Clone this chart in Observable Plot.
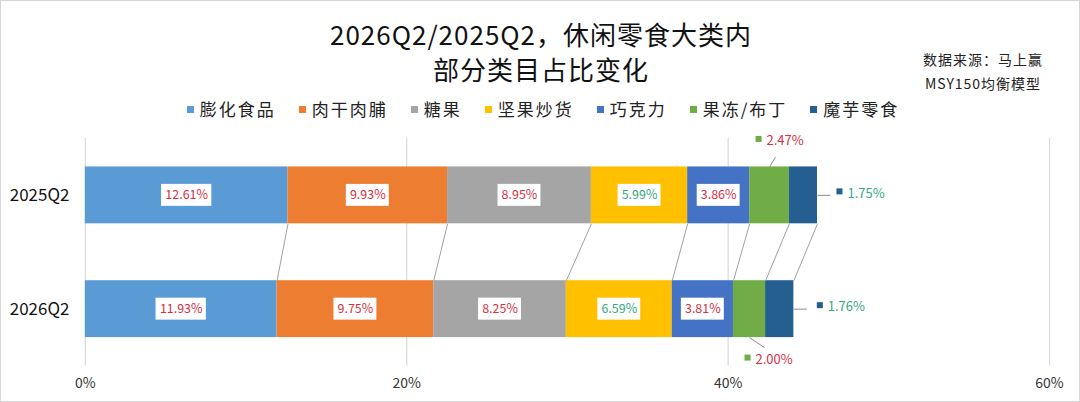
<!DOCTYPE html>
<html>
<head>
<meta charset="utf-8">
<script src="https://cdn.jsdelivr.net/npm/d3@7"></script>
<script src="https://cdn.jsdelivr.net/npm/@observablehq/plot@0.6"></script>
<style>
  html, body { margin: 0; padding: 0; background: #fff; }
  body { font-family: "Noto Sans CJK SC", "Noto Sans", sans-serif; color: #111; }
  #wrap { position: relative; width: 1080px; height: 402px; box-sizing: border-box; border: 1px solid #d6d6d6; background: #fff; overflow: hidden; }
  #title { position: absolute; left: 0; top: 15px; width: 1080px; text-align: center; font-size: 26px; line-height: 35px; letter-spacing: 1px; color: #111; }
  #source { position: absolute; left: 904px; top: 46px; width: 156px; text-align: center; font-size: 14px; line-height: 24px; letter-spacing: 1px; color: #222; }
  #legend { position: absolute; left: 0; top: 97px; width: 1080px; display: flex; justify-content: center; gap: 23px; font-size: 17px; line-height: 22px; letter-spacing: 2px; color: #222; padding-left: 4px; box-sizing: border-box; }
  .item { display: flex; align-items: center; }
  .sw { width: 7px; height: 7px; margin-right: 6px; }
  #chart { position: absolute; left: 0; top: 125px; }
</style>
</head>
<body>
<div id="wrap">
  <div id="title">2026Q2/2025Q2，休闲零食大类内<br>部分类目占比变化</div>
  <div id="source">数据来源：马上赢<br>MSY150均衡模型</div>
  <div id="legend"></div>
  <div id="chart"></div>
</div>
<script>
// ---- data ----
const periods = ["2025Q2", "2026Q2"];
const categories = ["膨化食品", "肉干肉脯", "糖果", "坚果炒货", "巧克力", "果冻/布丁", "魔芋零食"];
const values2025 = [12.61, 9.93, 8.95, 5.99, 3.86, 2.47, 1.75];
const values2026 = [11.93, 9.75, 8.25, 6.59, 3.81, 2.00, 1.76];
const colors = ["#5B9BD5", "#ED7D31", "#A5A5A5", "#FFC000", "#4472C4", "#70AD47", "#255E91"];
const xTicks = [0, 0.2, 0.4, 0.6];
const insideCount = 5; // first five categories labelled inside the bars

// ---- layout ----
const W = 1080, H = 277, ML = 84, MR = 30, MT = 12, MB = 37;
const kx = 0.6 / (W - ML - MR);   // data units per pixel (x)
const ky = 2 / (H - MT - MB);     // data units per pixel (y)
const RED = "#D6303F", GREEN = "#34A87F";

// legend
const legend = document.getElementById("legend");
categories.forEach((c, i) => {
  const it = document.createElement("div");
  it.className = "item";
  it.innerHTML = `<span class="sw" style="background:${colors[i]}"></span><span>${c}</span>`;
  legend.appendChild(it);
});

// rows
const series = [values2025, values2026];
const rows = [];
series.forEach((vals, yi) => {
  const cum = d3.cumsum(vals);
  vals.forEach((v, i) => {
    const other = series[1 - yi][i];
    const up = yi === 1 ? v > other : other > v;
    rows.push({
      period: periods[yi], yi, cat: categories[i], ci: i,
      value: v / 100,
      end: cum[i] / 100,
      mid: (cum[i] - v / 2) / 100,
      label: v.toFixed(2) + "%",
      color: up ? GREEN : RED
    });
  });
});
const cum25 = d3.cumsum(values2025), cum26 = d3.cumsum(values2026);
const links = categories.map((c, i) => ({a: cum25[i] / 100, b: cum26[i] / 100}));

const inside = rows.filter(d => d.ci < insideCount);
const boxW = d => d.label.length * 7.4 + 6;

// callouts: 果冻/布丁 above/below, 魔芋零食 right
const jelly = rows.filter(d => d.ci === 5).map(d => {
  const s = d.yi === 0 ? -1 : 1;
  const ay = d.yi + s * 0.25;
  return {...d, ax: d.mid, ay, bx: d.mid + (d.yi === 0 ? 6 : 15) * kx, by: ay + s * 10 * ky,
          lx: d.mid + (d.yi === 0 ? -11 : -2) * kx, ly: ay + s * (d.yi === 0 ? 26 : 22) * ky};
});
const konj = rows.filter(d => d.ci === 6).map(d => ({
  ...d, ax: d.end, ay: d.yi, bx: d.end + 13 * kx, by: d.yi,
  lx: d.end + (d.yi === 0 ? 22 : 26) * kx, ly: d.yi - 2 * ky
}));
const callouts = jelly.concat(konj);

const chart = Plot.plot({
  width: W, height: H,
  marginLeft: ML, marginRight: MR, marginTop: MT, marginBottom: MB,
  style: {fontFamily: '"Noto Sans CJK SC", "Noto Sans", sans-serif', background: "transparent", overflow: "visible"},
  x: {domain: [0, 0.6], axis: null},
  y: {domain: [-0.5, 1.5], reverse: true, axis: null},
  color: {domain: categories, range: colors},
  marks: [
    Plot.ruleX(xTicks, {stroke: "#d9d9d9", strokeWidth: 1.2}),
    Plot.axisX({ticks: xTicks, tickFormat: d3.format(".0%"), tickSize: 0, tickPadding: 12, fontSize: 14, fill: "#333"}),
    Plot.axisY({ticks: [0, 1], tickFormat: i => periods[i], tickSize: 0, tickPadding: 16, fontSize: 17, fill: "#111"}),
    Plot.rect(rows, Plot.stackX({x: "value", y1: d => d.yi - 0.25, y2: d => d.yi + 0.25, fill: "cat"})),
    Plot.link(links, {x1: "a", x2: "b", y1: () => 0.25, y2: () => 0.75, stroke: "#a0a0a0", strokeWidth: 1}),
    Plot.rect(inside, {x1: d => d.mid - boxW(d) / 2 * kx, x2: d => d.mid + boxW(d) / 2 * kx,
                       y1: d => d.yi - 11 * ky, y2: d => d.yi + 11 * ky, fill: "white"}),
    Plot.text(inside, {x: "mid", y: "yi", text: "label", fill: "color", fontSize: 12.5}),
    Plot.link(callouts, {x1: "ax", y1: "ay", x2: "bx", y2: "by", stroke: "#8c8c8c", strokeWidth: 1}),
    Plot.dot(callouts, {x: "lx", y: "ly", symbol: "square", r: 3.4, fill: d => colors[d.ci], dy: -2}),
    Plot.text(callouts, {x: "lx", y: "ly", text: "label", fill: "color", fontSize: 13, textAnchor: "start", dx: 8})
  ]
});
document.getElementById("chart").appendChild(chart);
</script>
</body>
</html>
